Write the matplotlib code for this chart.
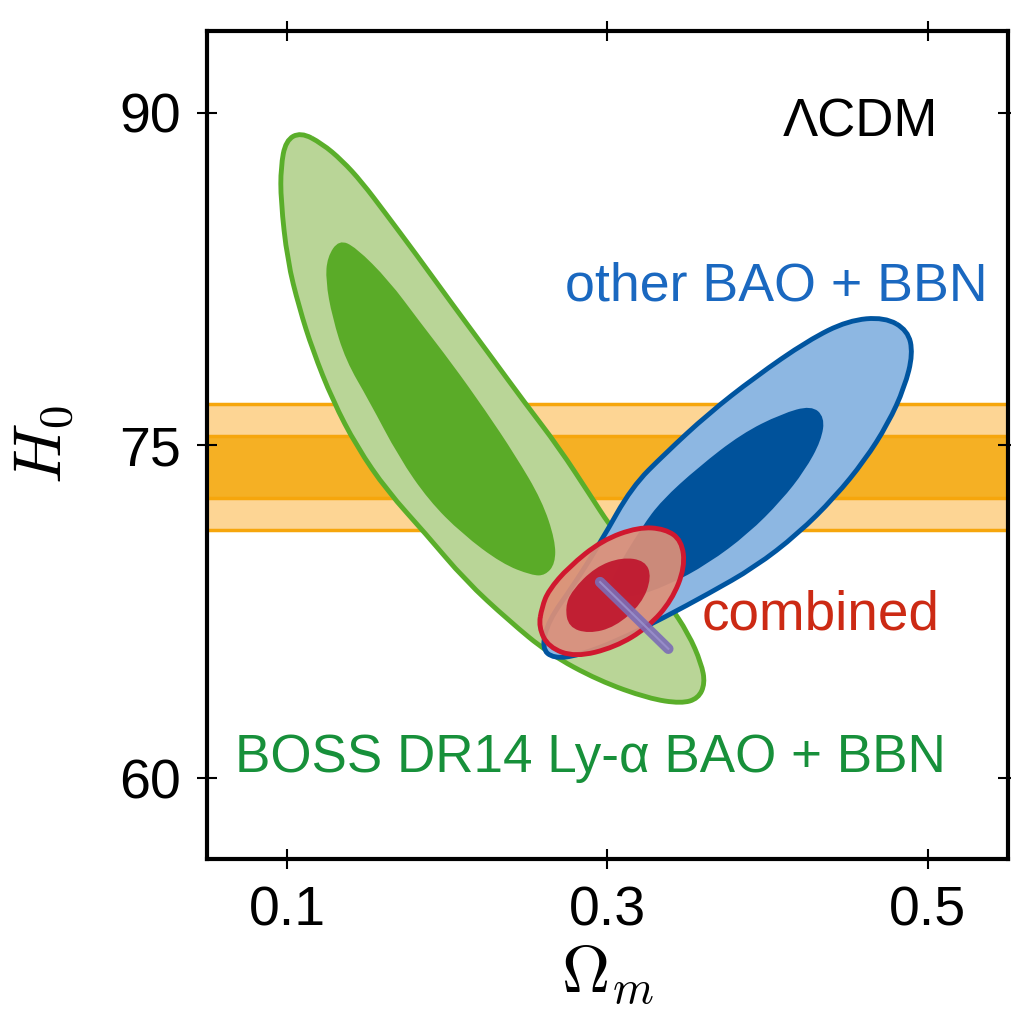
import matplotlib
matplotlib.use("Agg")
import matplotlib.pyplot as plt
from matplotlib.path import Path
from matplotlib.patches import PathPatch

plt.rcParams['font.family'] = ['Liberation Sans', 'DejaVu Sans']
plt.rcParams['mathtext.fontset'] = 'cm'

# H0 band (local distance ladder), 1 and 2 sigma edges
band_2s = [71.19, 76.87]
band_1s = [72.61, 75.45]

# BOSS DR14 Ly-a BAO + BBN contours (Omega_m, H0)
green_2s_om = [0.1085, 0.1218, 0.1343, 0.1467, 0.1615, 0.1802, 0.2028, 0.2259, 0.2487,
               0.2695, 0.2900, 0.3006, 0.3212, 0.3380, 0.3505, 0.3586, 0.3609, 0.3567,
               0.3461, 0.3255, 0.2944, 0.2632, 0.2383, 0.2113, 0.1864, 0.1625, 0.1435,
               0.1285, 0.1160, 0.1075, 0.1002, 0.0961, 0.0961, 0.0992]
green_2s_h0 = [89.13, 88.62, 87.86, 86.88, 85.47, 83.66, 81.41, 79.15, 76.90,
               74.93, 72.67, 71.48, 69.50, 67.88, 66.52, 65.17, 64.27, 63.59,
               63.36, 63.59, 64.40, 65.62, 67.11, 68.91, 71.03, 72.95, 74.95,
               77.03, 79.30, 81.24, 83.35, 86.05, 87.56, 88.76]
green_1s_om = [0.1324, 0.1428, 0.1636, 0.1822, 0.2030, 0.2238, 0.2425, 0.2591, 0.2674,
               0.2674, 0.2612, 0.2528, 0.2341, 0.2092, 0.1885, 0.1698, 0.1511, 0.1366,
               0.1282, 0.1241, 0.1251]
green_1s_h0 = [84.28, 83.95, 82.44, 80.64, 78.69, 76.58, 74.55, 72.52, 70.72,
               69.67, 69.14, 69.14, 69.67, 71.02, 72.52, 74.47, 77.03, 78.84,
               80.79, 82.44, 83.50]

# other BAO + BBN contours
blue_2s_om = [0.4730, 0.4875, 0.4907, 0.4855, 0.4751, 0.4606, 0.4419, 0.4190, 0.3920,
              0.3629, 0.3359, 0.3069, 0.2819, 0.2664, 0.2589, 0.2632, 0.2788, 0.2964,
              0.3151, 0.3359, 0.3629, 0.3920, 0.4252, 0.4502]
blue_2s_h0 = [80.79, 80.19, 79.14, 77.63, 75.98, 74.33, 72.67, 71.02, 69.51,
              68.31, 67.26, 66.21, 65.53, 65.39, 65.85, 67.11, 68.69, 70.72,
              73.12, 74.63, 76.43, 78.08, 79.74, 80.64]
blue_1s_om = [0.4273, 0.4356, 0.4335, 0.4232, 0.4086, 0.3879, 0.3629, 0.3380, 0.3131,
              0.3006, 0.3037, 0.3214, 0.3338, 0.3567, 0.3837, 0.4086]
blue_1s_h0 = [76.81, 76.28, 75.23, 73.87, 72.52, 71.02, 69.67, 68.69, 68.09,
              68.31, 69.21, 71.32, 72.52, 74.02, 75.53, 76.43]

# combined contours
red_2s_om = [0.2591, 0.2570, 0.2632, 0.2799, 0.3048, 0.3255, 0.3401, 0.3484, 0.3463,
             0.3360, 0.3193, 0.2965, 0.2757, 0.2632]
red_2s_h0 = [67.71, 66.81, 65.90, 65.45, 65.90, 66.81, 68.01, 69.51, 70.72,
             71.24, 71.32, 70.72, 69.51, 68.46]
red_1s_om = [0.2736, 0.2757, 0.2882, 0.3048, 0.3214, 0.3276, 0.3235, 0.3089, 0.2923, 0.2778]
red_1s_h0 = [67.71, 66.81, 66.51, 66.81, 67.86, 69.06, 69.81, 69.96, 69.51, 68.46]

# CMB-like narrow degeneracy
purple_om = [0.2954, 0.3380]
purple_h0 = [68.84, 65.83]

xticks = [0.1, 0.3, 0.5]
yticks = [60, 75, 90]


def contour_patch(xs, ys, **kw):
    # closed quadratic-bezier path through the traced outline points
    n = len(xs)
    mids = [((xs[i] + xs[(i + 1) % n]) / 2, (ys[i] + ys[(i + 1) % n]) / 2) for i in range(n)]
    verts = [mids[0]]
    codes = [Path.MOVETO]
    for i in range(1, n + 1):
        verts += [(xs[i % n], ys[i % n]), mids[i % n]]
        codes += [Path.CURVE3, Path.CURVE3]
    return PathPatch(Path(verts, codes), **kw)


fig = plt.figure(figsize=(10.11, 10.17), dpi=100)
ax = fig.add_axes([0.2047, 0.1554, 0.7923, 0.8142])

# orange band
ax.axhspan(band_2s[0], band_2s[1], color='#fdd594', lw=0, zorder=1)
ax.axhspan(band_1s[0], band_1s[1], color='#f5b024', lw=0, zorder=1)
for yv in band_2s + band_1s:
    ax.axhline(yv, color='#f6a60c', lw=2.5, zorder=1.1)

# green
ax.add_patch(contour_patch(green_2s_om, green_2s_h0, facecolor='#b9d597',
                           edgecolor='#5aae2a', lw=3.5, zorder=2))
ax.add_patch(contour_patch(green_1s_om, green_1s_h0, facecolor='#5aab28',
                           edgecolor='none', zorder=2.1))

# blue
ax.add_patch(contour_patch(blue_2s_om, blue_2s_h0, facecolor='#8db7e2',
                           edgecolor='#0055a0', lw=3.5, zorder=3))
ax.add_patch(contour_patch(blue_1s_om, blue_1s_h0, facecolor='#00529b',
                           edgecolor='none', zorder=3.1))

# red
ax.add_patch(contour_patch(red_2s_om, red_2s_h0, facecolor='#de9078', alpha=0.92,
                           edgecolor='none', zorder=4))
ax.add_patch(contour_patch(red_2s_om, red_2s_h0, facecolor='none',
                           edgecolor='#d0182f', lw=3.5, zorder=4.05))
ax.add_patch(contour_patch(red_1s_om, red_1s_h0, facecolor='#c0152d', alpha=0.92,
                           edgecolor='none', zorder=4.1))

# purple
ax.plot(purple_om, purple_h0, color='#7b6cb6', lw=7.5, alpha=0.9,
        solid_capstyle='round', zorder=5)
ax.plot(purple_om, purple_h0, color='#9a90cc', lw=1.5, alpha=0.9, zorder=5.1)

ax.set_xlim(0.05, 0.55)
ax.set_ylim(56.35, 93.7)
ax.set_xticks(xticks)
ax.set_xticklabels([str(t) for t in xticks])
ax.set_yticks(yticks)
ax.tick_params(direction='inout', length=14, width=1.5, labelsize=40,
               top=True, right=True, pad=12)
for sp in ax.spines.values():
    sp.set_linewidth(3)
    sp.set_zorder(10)

ax.set_xlabel(r'$\Omega_m$', fontsize=48, labelpad=4)
ax.set_ylabel(r'$H_0$', fontsize=48, labelpad=30)

ax.text(0.913, 0.872, 'ΛCDM', transform=ax.transAxes, ha='right', va='baseline',
        fontsize=38, color='black')
ax.text(0.974, 0.675, 'other BAO + BBN', transform=ax.transAxes, ha='right',
        va='baseline', fontsize=38.7, color='#1a68c0')
ax.text(0.915, 0.2766, 'combined', transform=ax.transAxes, ha='right', va='baseline',
        fontsize=39.5, color='#cc2a14')
ax.text(0.479, 0.105, 'BOSS DR14 Ly-α BAO + BBN', transform=ax.transAxes, ha='center',
        va='baseline', fontsize=38.2, color='#17903a')

fig.savefig('out.png', dpi=100)
